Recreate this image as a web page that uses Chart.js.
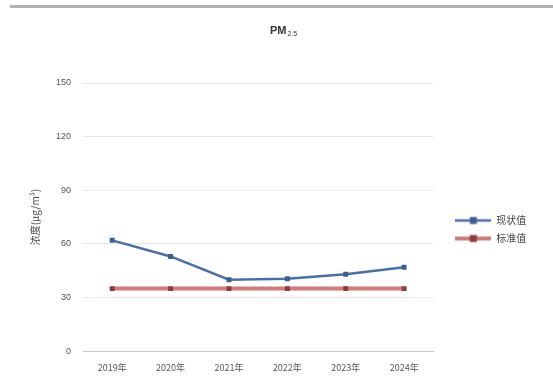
<!DOCTYPE html>
<html>
<head>
<meta charset="utf-8">
<script src="https://cdn.jsdelivr.net/npm/chart.js@4"></script>
<style>
  html, body { margin: 0; padding: 0; background: #ffffff; }
  #wrap { position: relative; width: 553px; height: 385px; }
  #topRule { position: absolute; left: 10px; right: 0; top: 5px; height: 3px; background: #b3b3b3; }
  canvas { display: block; }
</style>
</head>
<body>
<div id="wrap">
  <div id="topRule"></div>
  <canvas id="c" width="553" height="385"></canvas>
</div>
<script>
// Annual PM2.5 concentration against the standard limit
const years = ['2019年', '2020年', '2021年', '2022年', '2023年', '2024年'];
const measured = [62, 53, 40, 40.5, 43, 47];
const standard = [35, 35, 35, 35, 35, 35];
const yTicks = [0, 30, 60, 90, 120, 150];

const seriesNames = ['现状值', '标准值'];
const blue = '#4a6fa8';
const blueMarker = '#3c5f94';
const red = 'rgba(192, 80, 77, 0.75)';
const redMarker = '#8f3a3f';

function legendIcon(color, width, marker) {
  const cv = document.createElement('canvas');
  cv.width = 36; cv.height = 10;
  const g = cv.getContext('2d');
  g.strokeStyle = color; g.lineWidth = width;
  g.beginPath(); g.moveTo(0, 5); g.lineTo(36, 5); g.stroke();
  g.fillStyle = marker;
  g.fillRect(14.5, 1.5, 7, 7);
  return cv;
}

const titlePlugin = {
  id: 'pmTitle',
  afterDraw(chart) {
    const ctx = chart.ctx;
    ctx.save();
    ctx.fillStyle = '#333333';
    ctx.textBaseline = 'alphabetic';
    const big = 'bold 11px "Liberation Sans", Arial, sans-serif';
    const small = '7px "Liberation Sans", Arial, sans-serif';
    ctx.font = big;
    const wa = ctx.measureText('PM').width;
    ctx.font = small;
    const wb = ctx.measureText('2.5').width;
    const x0 = 283 - (wa + wb) / 2;
    ctx.font = big;
    ctx.fillText('PM', x0, 34);
    ctx.font = small;
    ctx.fillText('2.5', x0 + wa + 1, 36);
    ctx.restore();
  }
};

new Chart(document.getElementById('c'), {
  type: 'line',
  data: {
    labels: years,
    datasets: [
      {
        label: seriesNames[0],
        data: measured,
        borderColor: blue,
        backgroundColor: blueMarker,
        borderWidth: 2.5,
        pointStyle: 'rect',
        pointRadius: 3.5,
        pointBorderWidth: 0,
        tension: 0,
        yAxisID: 'y'
      },
      {
        label: seriesNames[1],
        data: standard,
        borderColor: red,
        backgroundColor: redMarker,
        borderWidth: 4,
        pointStyle: 'rect',
        pointRadius: 3.5,
        pointBorderWidth: 0,
        tension: 0,
        yAxisID: 'y'
      }
    ]
  },
  options: {
    responsive: false,
    animation: false,
    devicePixelRatio: 1,
    layout: { padding: { top: 83, left: 29, right: 22, bottom: 9 } },
    plugins: {
      title: { display: false },
      tooltip: { enabled: false },
      legend: {
        position: 'right',
        align: 'center',
        labels: {
          usePointStyle: true,
          pointStyleWidth: 36,
          font: { size: 10, family: '"Noto Sans CJK SC", sans-serif' },
          color: '#444444',
          padding: 8,
          generateLabels(chart) {
            return chart.data.datasets.map((ds, i) => ({
              text: ds.label,
              pointStyle: i === 0 ? legendIcon(blue, 2.5, blueMarker) : legendIcon(red, 4, redMarker),
              datasetIndex: i,
              fontColor: '#444444',
              lineWidth: 0,
              strokeStyle: 'transparent',
              fillStyle: 'transparent'
            }));
          }
        }
      }
    },
    scales: {
      x: {
        offset: true,
        grid: { display: false },
        border: { display: true, color: '#c8c8c8', width: 1, dash: [2, 1] },
        ticks: {
          color: '#555555',
          font: { size: 9, family: '"Noto Sans CJK SC", sans-serif' },
          maxRotation: 0,
          padding: 3
        }
      },
      y: {
        min: 0,
        max: 150,
        afterBuildTicks(scale) { scale.ticks = yTicks.map(v => ({ value: v })); },
        grid: { color: '#e6e6e6', drawTicks: false },
        border: { display: false },
        ticks: {
          color: '#555555',
          font: { size: 9, family: '"Liberation Sans", Arial, sans-serif' },
          padding: 12
        },
        title: {
          display: true,
          text: '浓度(μg/m³)',
          color: '#444444',
          font: { size: 10, family: '"Noto Sans CJK SC", sans-serif' },
          padding: { top: 0, bottom: 3 }
        }
      },
      // empty right-hand axis that only reserves the gap before the legend
      gap: {
        position: 'right',
        display: true,
        min: 0,
        max: 150,
        grid: { display: false },
        border: { display: false },
        ticks: { display: false },
        afterFit(scale) { scale.width = 14; }
      }
    }
  },
  plugins: [titlePlugin]
});
</script>
</body>
</html>
